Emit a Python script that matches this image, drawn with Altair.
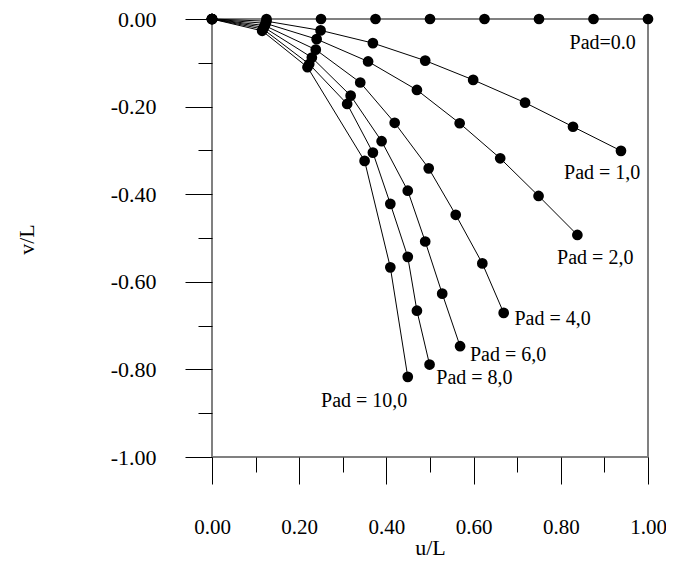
import altair as alt
import pandas as pd

# ---- data ----
pad_values = [0, 1, 2, 4, 6, 8, 10]

pad0_u = [0.0, 0.125, 0.25, 0.375, 0.5, 0.625, 0.75, 0.875, 1.0]
pad0_v = [0.0, 0.0, 0.0, 0.0, 0.0, 0.0, 0.0, 0.0, 0.0]

pad1_u = [0.0, 0.125, 0.249, 0.369, 0.489, 0.599, 0.718, 0.828, 0.938]
pad1_v = [0.0, -0.005, -0.026, -0.055, -0.095, -0.139, -0.191, -0.246, -0.301]

pad2_u = [0.0, 0.123, 0.240, 0.358, 0.470, 0.568, 0.661, 0.749, 0.838]
pad2_v = [0.0, -0.010, -0.046, -0.097, -0.162, -0.238, -0.318, -0.404, -0.493]

pad4_u = [0.0, 0.121, 0.238, 0.340, 0.419, 0.497, 0.559, 0.620, 0.669]
pad4_v = [0.0, -0.015, -0.070, -0.145, -0.237, -0.341, -0.447, -0.558, -0.671]

pad6_u = [0.0, 0.119, 0.229, 0.318, 0.389, 0.449, 0.489, 0.528, 0.569]
pad6_v = [0.0, -0.019, -0.088, -0.175, -0.279, -0.392, -0.508, -0.627, -0.747]

pad8_u = [0.0, 0.117, 0.223, 0.310, 0.369, 0.409, 0.449, 0.470, 0.499]
pad8_v = [0.0, -0.023, -0.103, -0.194, -0.305, -0.422, -0.543, -0.666, -0.789]

pad10_u = [0.0, 0.115, 0.219, 0.350, 0.409, 0.449]
pad10_v = [0.0, -0.027, -0.110, -0.324, -0.567, -0.817]

label_text = ["Pad=0.0", "Pad = 1,0", "Pad = 2,0", "Pad = 4,0",
              "Pad = 6,0", "Pad = 8,0", "Pad = 10,0"]
label_u = [0.896, 0.895, 0.879, 0.781, 0.679, 0.602, 0.349]
label_v = [-0.055, -0.352, -0.546, -0.685, -0.767, -0.820, -0.872]

x_ticks = [0.0, 0.1, 0.2, 0.3, 0.4, 0.5, 0.6, 0.7, 0.8, 0.9, 1.0]
y_ticks = [-1.0, -0.9, -0.8, -0.7, -0.6, -0.5, -0.4, -0.3, -0.2, -0.1, 0.0]

series = [
    (0, pad0_u, pad0_v), (1, pad1_u, pad1_v), (2, pad2_u, pad2_v),
    (4, pad4_u, pad4_v), (6, pad6_u, pad6_v), (8, pad8_u, pad8_v),
    (10, pad10_u, pad10_v),
]
rows = []
for pad, us, vs in series:
    for i, (u, v) in enumerate(zip(us, vs)):
        rows.append({"pad": pad, "i": i, "u": u, "v": v})
df = pd.DataFrame(rows)
labels = pd.DataFrame({"text": label_text, "u": label_u, "v": label_v})

FONT = "Liberation Serif"

X = alt.X(
    "u:Q",
    scale=alt.Scale(domain=[0, 1], nice=False, zero=False),
    axis=alt.Axis(
        values=x_ticks,
        title="u/L",
        labelExpr="round(datum.value*10) % 2 == 0 ? format(datum.value, '.2f') : ''",
        tickSize={"condition": {"test": "round(datum.value*10) % 2 == 0", "value": 27}, "value": 15},
        labelPadding=32,
        labelFontSize=21,
        labelFlush=False,
        labelOverlap=False,
        titleX=218,
        titleY=97,
        titleBaseline="alphabetic",
        titleAlign="center",
    ),
)
Y = alt.Y(
    "v:Q",
    scale=alt.Scale(domain=[-1, 0], nice=False, zero=False),
    axis=alt.Axis(
        values=y_ticks,
        title="v/L",
        labelExpr="abs(round(datum.value*10)) % 2 == 0 ? (datum.value < -0.0001 ? '-' : '') + format(abs(datum.value), '.2f') : ''",
        tickSize={"condition": {"test": "abs(round(datum.value*10)) % 2 == 0", "value": 27}, "value": 14},
        labelPadding=29,
        labelFlush=False,
        labelOverlap=False,
        titleX=-179,
        titleY=220,
        titleAngle=270,
        titleBaseline="alphabetic",
        titleAlign="center",
    ),
)

lines = alt.Chart(df).mark_line(strokeWidth=1).encode(
    x=X, y=Y, detail="pad:N", order="i:Q",
    color=alt.condition(alt.datum.pad == 0, alt.value("#808080"), alt.value("black")),
)
points = alt.Chart(df).mark_circle(size=115, opacity=1, color="black").encode(x=X, y=Y)
texts = alt.Chart(labels).mark_text(
    font=FONT, fontSize=20, align="center", baseline="middle", color="black"
).encode(x=X, y=Y, text="text:N")

chart = (
    alt.layer(lines, points, texts)
    .properties(
        width=436,
        height=438,
        autosize=alt.AutoSizeParams(type="none"),
        padding={"left": 204, "top": 11, "right": 18, "bottom": 102},
    )
    .configure_view(stroke="#808080", strokeWidth=2)
    .configure_axis(
        domain=False,
        grid=False,
        tickColor="black",
        tickWidth=1,
        labelFont=FONT,
        labelFontSize=22,
        labelColor="black",
        titleFont=FONT,
        titleFontSize=22,
        titleFontWeight="normal",
        titleColor="black",
    )
)

chart.save("out.html", embed_options={"renderer": "svg", "actions": False})
